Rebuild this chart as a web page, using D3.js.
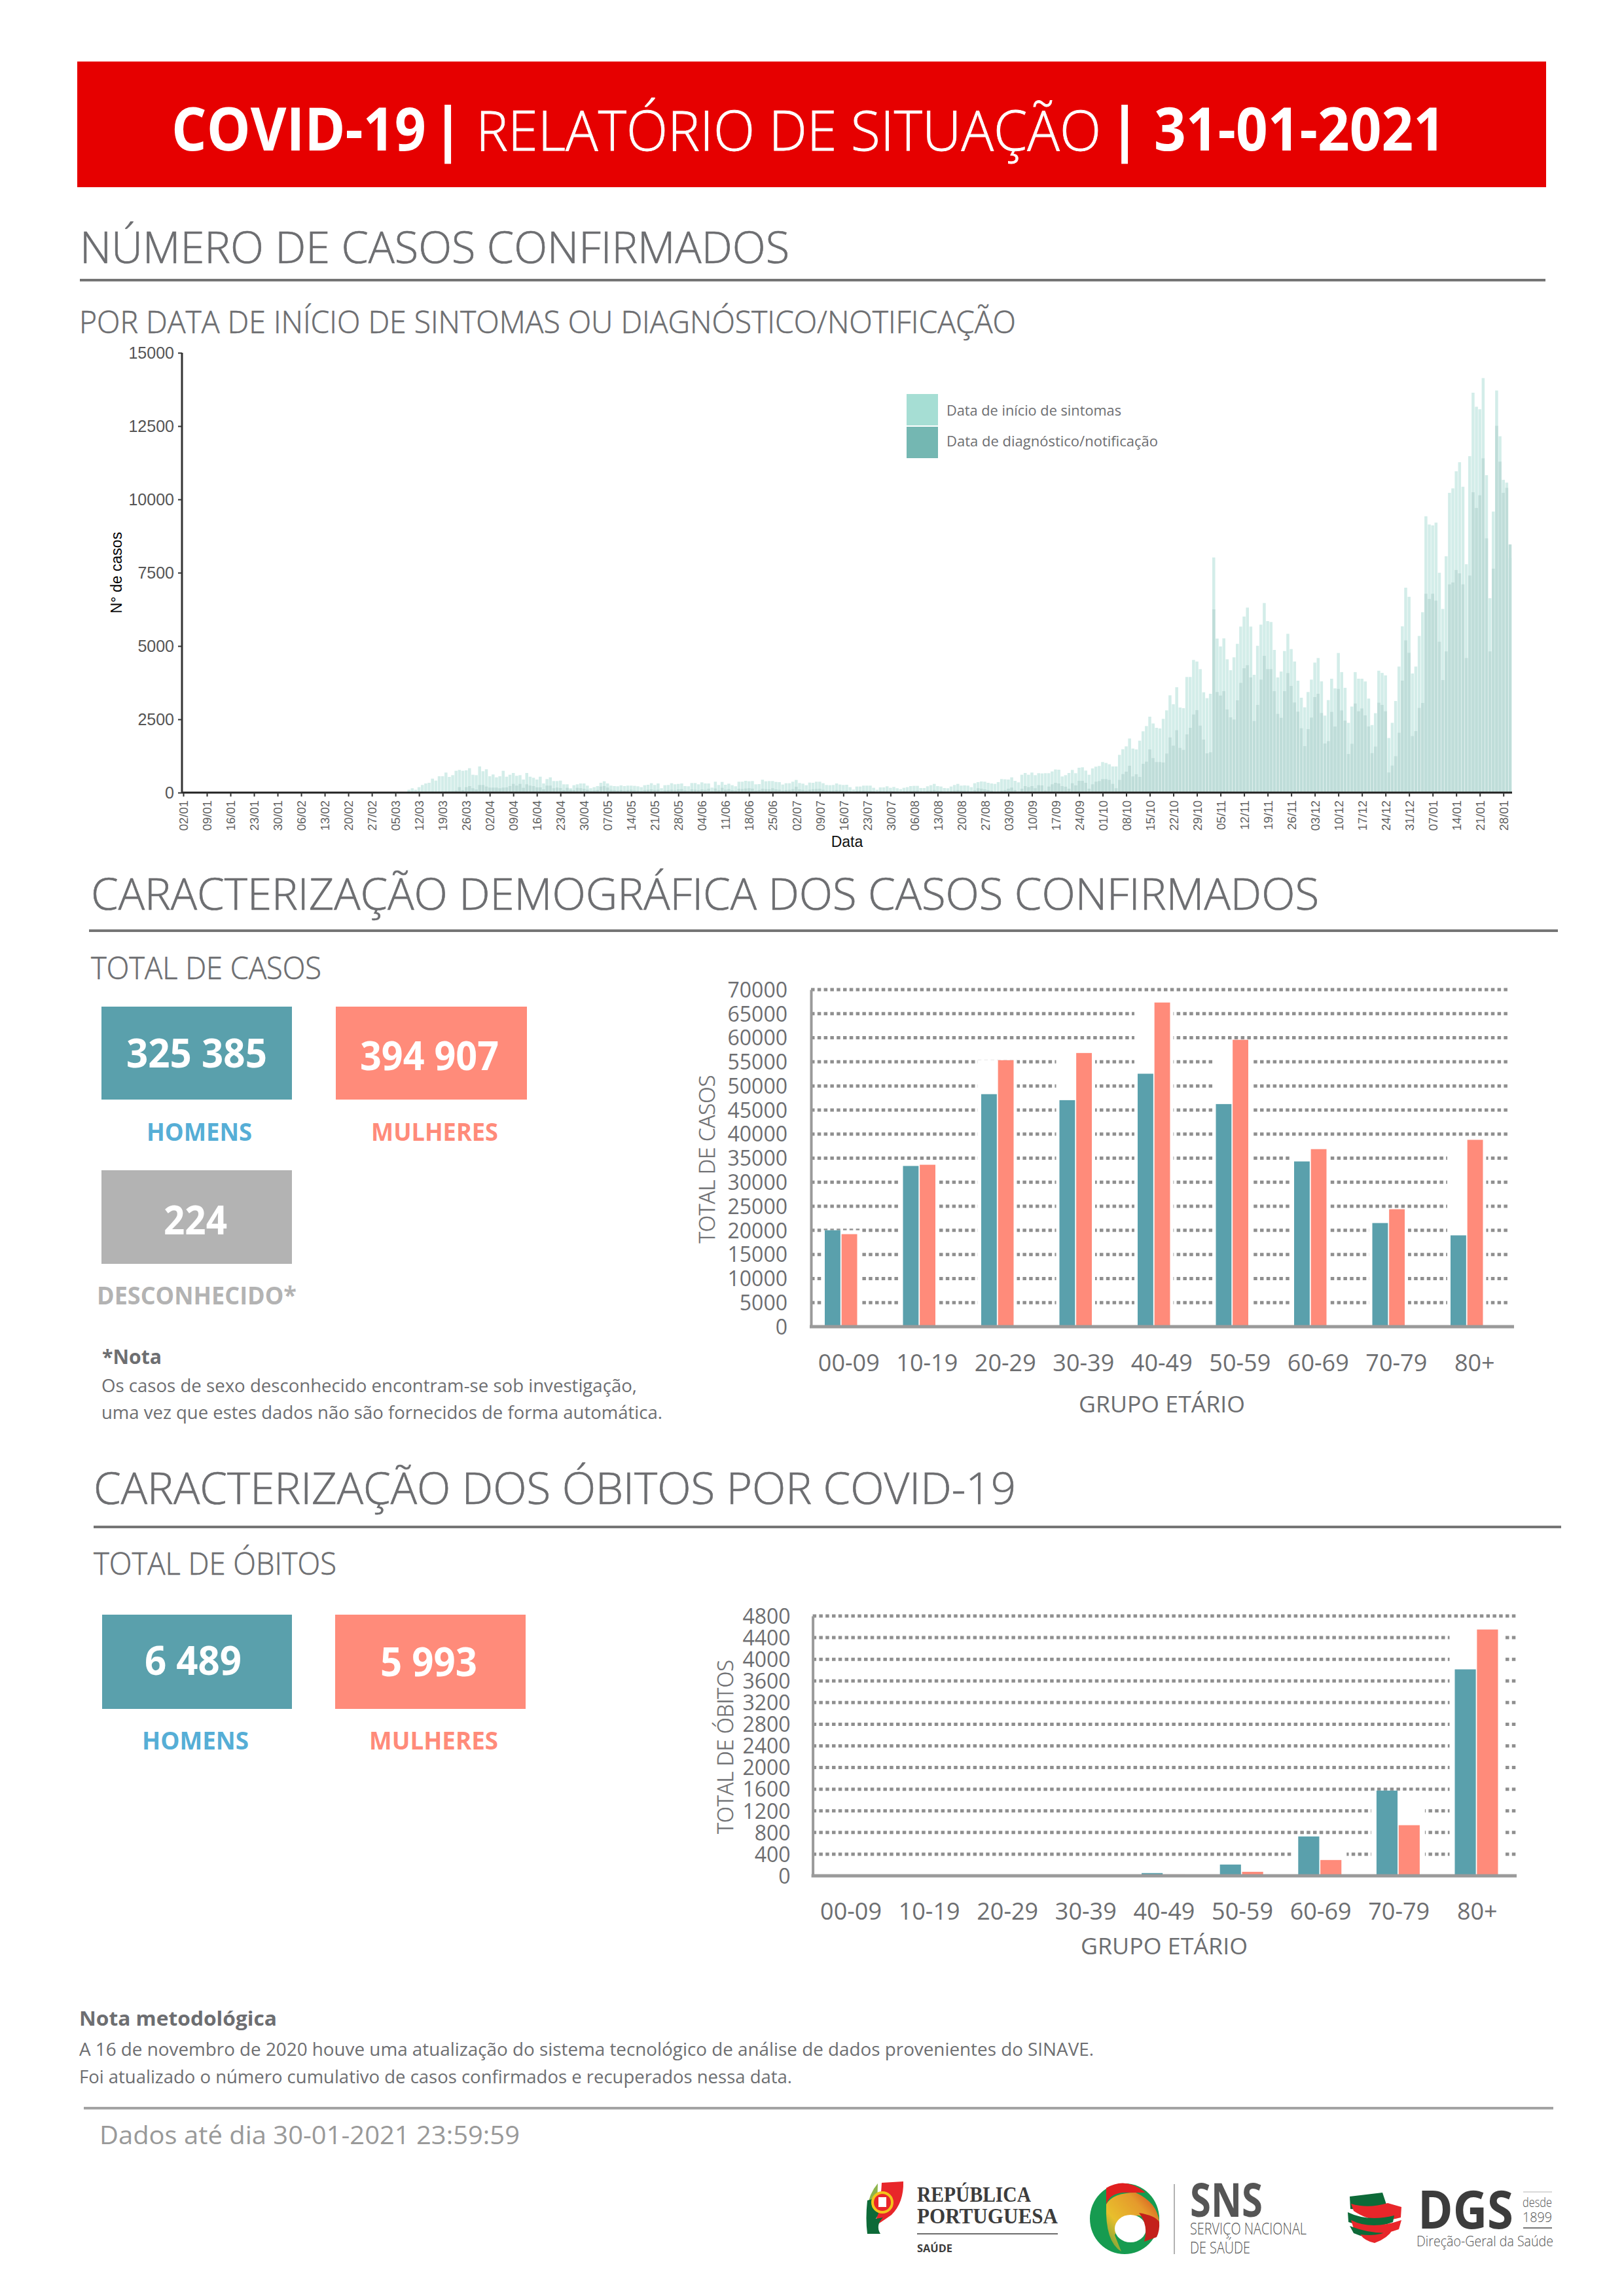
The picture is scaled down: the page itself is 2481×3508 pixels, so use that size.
<!DOCTYPE html>
<html lang="pt"><head><meta charset="utf-8">
<script src="https://cdn.jsdelivr.net/npm/d3@7/dist/d3.min.js"></script>
<style>html,body{margin:0;padding:0;background:#fff}svg{display:block}</style>
</head><body><div id="c"></div>
<script>
// ---------- DATA ----------
const firstDay = "2020-03-09"; // first day with cases; every earlier day is zero
const axisStart = "2020-01-02", axisEnd = "2021-01-30";
// Light bars, daily
const lightMarch = [97,149,97,186,260,312,335,476,409,558,558,684,536,595,744,774,744,759,833,610,595,893,729];
const lightApril = [796,558,618,521,558,744,543,610,670,573,595,446,670,543,506,446,543,312,461,521,394,394,409,283,283,149,253,283,312,312];
const lightMay = [238,149,186,223,335,387,312,238,223,216,246,223,238,238,231,216,186,253,268,320,260,312,149,253,260,320,283,298,312,223,216];
const lightJune = [327,327,283,350,312,312,171,372,260,365,268,305,253,216,372,372,402,387,394,283,290,439,387,394,394,365,357,275,320,320];
const lightJuly = [372,432,327,305,253,342,335,372,372,320,260,253,260,312,275,260,268,186,104,208,208,238,238,238,164,97,178,178,216,164,193];
const lightAugust = [149,119,164,186,223,231,231,156,156,216,253,298,223,208,156,149,208,260,298,238,246,238,186,320,357,380,372,335,312,298,357];
const lightSeptember = [461,454,446,521,402,350,610,670,610,684,595,662,655,662,662,722,789,781,551,595,670,774,662,848,863,751,610,826,885,908];
const lightOctober = [1042,1012,967,893,893,1287,1481,1577,1845,1503,1473,1771,2091,2269,2589,2358,2210,2187,2515,2805,3318,3013,3594,2902,2879,3943,3943,4524,4471,4211,3422];
const lightNovember = [3222,3370,8020,5253,4985,5260,4546,4174,4613,5074,5662,6004,6309,5662,4018,5007,5729,6465,5848,5818,4866,3928,4129,4829,5416,4896,4471,3817,3236,2909];
const lightDecember = [3430,3854,4434,4590,3794,2626,3155,3884,3556,4762,4110,3574,2380,2935,4110,3885,3885,3791,3207,2304,2709,4157,4082,3998,1862,2380,3123,4299,5672,6989,6678];
const lightJanuary = [4063,4299,5343,6152,9425,9143,9114,9208,7497,6264,8061,10224,10375,10958,11268,10431,7788,11475,13639,13159,13074,14137,10826,6631,9585,13714,12153,10666,10572,8000];
// Darker bars, daily
const darkMarch = [10,15,15,20,25,30,30,35,30,35,40,45,50,55,70,186,89,186,223,149,104,260,260];
const darkApril = [208,171,171,171,149,171,178,223,298,238,298,164,283,238,223,178,178,112,238,238,149,171,156,89,164,97,89,164,150,130];
const darkMay = [100,60,75,90,208,223,171,97,85,70,90,70,85,100,80,70,55,85,100,110,90,100,45,75,85,100,85,110,120,75,60];
const darkJune = [110,100,85,110,95,130,50,140,85,164,100,120,85,70,130,125,140,149,135,70,90,130,120,115,149,110,100,70,90,95];
const darkJuly = [120,200,110,95,70,100,115,125,130,100,70,70,75,90,80,65,70,40,25,55,65,70,60,60,45,30,55,50,60,50,45];
const darkAugust = [40,30,45,50,60,65,70,45,40,60,75,90,65,55,35,35,60,75,85,70,65,60,45,80,149,134,112,89,60,15,30];
const darkSeptember = [74,89,134,171,89,15,134,223,186,223,149,253,246,74,208,283,335,312,223,201,134,320,246,402,402,335,134,283,372,394];
const darkOctober = [461,461,432,298,149,432,632,714,915,551,625,536,982,1056,1473,1176,1042,1042,1027,1332,1882,1600,2128,1525,1458,1986,2210,2664,2812,2284,1808];
const darkNovember = [1339,1376,6250,3430,3311,3460,2835,2567,2492,3147,3742,4241,4345,3928,2440,2991,3854,4665,4211,4211,3460,2686,2552,3460,4077,3638,3073,2760,2195,1585];
const darkDecember = [2165,2559,3259,3370,2716,1674,1756,2753,2254,3534,2803,2455,1317,1665,3038,2775,2869,2634,2257,1345,1571,3066,2991,2775,687,922,1242,2041,3819,5192,4769];
const darkJanuary = [1928,2098,2888,3057,6782,6603,6782,6547,5145,3838,4816,7102,7167,7591,7478,7102,4590,7403,10243,9707,10140,11400,8672,4816,7638,12510,11287,10224,10394,8465];

const timelineTicks = [0,2500,5000,7500,10000,12500,15000];
const ageGroups = ["00-09","10-19","20-29","30-39","40-49","50-59","60-69","70-79","80+"];
const casesMen = [20027,33378,48290,47042,52532,46231,34315,21525,18966];
const casesWomen = [19216,33628,55340,56837,67319,59582,36872,24394,38807];
const deathsMen = [1,0,5,15,51,208,727,1574,3814];
const deathsWomen = [0,1,4,8,25,74,292,935,4550];
const casesTicks = d3.range(0,70001,5000);
const deathsTicks = d3.range(0,4801,400);

// ---------- PAGE ----------
const W=2481,H=3508, sans='"Open Sans"', arial='"Liberation Sans"', grey="#6d6e71",
      teal="#5aa0ac", salmon="#ff8b7a", silver="#b3b3b3";
const svg=d3.select("#c").append("svg").attr("width",W).attr("height",H).attr("viewBox",[0,0,W,H]);
function T(x1,base,x2,s,size,o={}){
  const t=svg.append("text").attr("x",x1).attr("y",base).text(s)
   .attr("font-family",o.family||sans).attr("font-size",size).attr("font-weight",o.weight||400)
   .attr("fill",o.fill||grey).attr("textLength",x2-x1).attr("lengthAdjust","spacingAndGlyphs");
  if(o.heavy) t.attr("stroke",o.fill||grey).attr("stroke-width",o.heavy);
  return t;
}
function rule(x1,x2,y,c="#757575",w=4){svg.append("line").attr("x1",x1).attr("x2",x2).attr("y1",y).attr("y2",y).attr("stroke",c).attr("stroke-width",w);}
function box(x1,y1,x2,y2,c){svg.append("rect").attr("x",x1).attr("y",y1).attr("width",x2-x1).attr("height",y2-y1).attr("fill",c);}
function pipe(cx){svg.append("text").attr("x",cx).attr("y",230).attr("text-anchor","middle").text("|")
  .attr("font-family",sans).attr("font-size",92).attr("font-weight",700).attr("fill","#fff");}

// header
box(118,94,2362,286,"#e60000");
T(262,230,651,"COVID-19",92,{weight:700,fill:"#fff"});
pipe(684);
T(727,230,1682,"RELATÓRIO DE SITUAÇÃO",84,{weight:300,fill:"#fff",heavy:0.8});
pipe(1718);
T(1763,230,2208,"31-01-2021",92,{weight:700,fill:"#fff"});

// section 1
T(122,402,1206,"NÚMERO DE CASOS CONFIRMADOS",66,{weight:300,heavy:0.7});
rule(122,2361,428);
T(121,509,1552,"POR DATA DE INÍCIO DE SINTOMAS OU DIAGNÓSTICO/NOTIFICAÇÃO",47,{weight:300,heavy:0.6});

// timeline chart
const light=[].concat(lightMarch,lightApril,lightMay,lightJune,lightJuly,lightAugust,lightSeptember,lightOctober,lightNovember,lightDecember,lightJanuary);
const dark=[].concat(darkMarch,darkApril,darkMay,darkJune,darkJuly,darkAugust,darkSeptember,darkOctober,darkNovember,darkDecember,darkJanuary);
const parse=d3.utcParse("%Y-%m-%d");
const t0=parse(firstDay), dayOf=i=>d3.utcDay.offset(t0,i);
const xT=d3.scaleUtc().domain([parse(axisStart),parse(axisEnd)]).range([280,2307]);
const yT=d3.scaleLinear().domain([0,15000]).range([1211,539]);
const barW=4.5;
const tl=svg.append("g");
tl.selectAll("rect.l").data(light).join("rect").attr("class","l")
  .attr("x",(d,i)=>xT(dayOf(i))-barW/2).attr("width",barW).attr("y",d=>yT(d)).attr("height",d=>yT(0)-yT(d)).attr("fill","#d3ede9");
tl.selectAll("rect.d").data(dark).join("rect").attr("class","d")
  .attr("x",(d,i)=>xT(dayOf(i))-barW/2).attr("width",barW).attr("y",d=>yT(d)).attr("height",d=>yT(0)-yT(d)).attr("fill","#bfddd9");
const weekly=d3.utcDay.range(parse(axisStart),d3.utcDay.offset(parse(axisEnd),1),7);
const gx=svg.append("g").attr("transform","translate(0,1211)")
  .call(d3.axisBottom(xT).tickValues(weekly).tickFormat(d3.utcFormat("%d/%m")).tickSize(6).tickPadding(5));
gx.select(".domain").attr("d","M278,0H2310").attr("stroke","#222").attr("stroke-width",3);
gx.selectAll(".tick line").attr("stroke","#333").attr("stroke-width",2);
gx.selectAll(".tick text").attr("transform","rotate(-90)").attr("text-anchor","end").attr("x",-12).attr("y",0).attr("dy","0.36em")
  .attr("font-family",arial).attr("font-size",18.5).attr("fill","#5f5f5f");
const gy=svg.append("g").attr("transform","translate(278,0)")
  .call(d3.axisLeft(yT).tickValues(timelineTicks).tickFormat(d3.format("d")).tickSize(6).tickPadding(6));
gy.select(".domain").attr("stroke","#333").attr("stroke-width",3).attr("d","M0,539V1211");
gy.selectAll(".tick line").attr("stroke","#333").attr("stroke-width",2);
gy.selectAll(".tick text").attr("font-family",arial).attr("font-size",25).attr("fill","#555");
svg.append("text").attr("transform","translate(186,875) rotate(-90)").attr("text-anchor","middle").text("N° de casos")
  .attr("font-family",arial).attr("font-size",23).attr("fill","#000");
svg.append("text").attr("x",1294).attr("y",1294).attr("text-anchor","middle").text("Data")
  .attr("font-family",arial).attr("font-size",23).attr("fill","#111");
box(1385,602,1433,650,"#a6ded4"); box(1385,652,1433,700,"#74b7b2");
T(1446,635,1713,"Data de início de sintomas",22);
T(1446,682,1769,"Data de diagnóstico/notificação",22);

// section 2
T(139,1390,2015,"CARACTERIZAÇÃO DEMOGRÁFICA DOS CASOS CONFIRMADOS",66,{weight:300,heavy:0.7});
rule(136,2380,1422);
T(139,1496,491,"TOTAL DE CASOS",47,{weight:300,heavy:0.6});
box(155,1538,446,1680,teal); box(513,1538,805,1680,salmon); box(155,1788,446,1931,silver);
T(193,1631,408,"325 385",60,{weight:700,fill:"#fff"});
T(550,1635,762,"394 907",60,{weight:700,fill:"#fff"});
T(250,1886,347,"224",60,{weight:700,fill:"#fff"});
T(224,1743,385,"HOMENS",38,{weight:700,fill:"#56aed6"});
T(567,1743,761,"MULHERES",38,{weight:700,fill:salmon});
T(148,1993,453,"DESCONHECIDO*",38,{weight:700,fill:silver});
T(156,2084,247,"*Nota",31,{weight:700});
T(155,2127,973,"Os casos de sexo desconhecido encontram-se sob investigação,",27);
T(155,2168,1012,"uma vez que estes dados não são fornecidos de forma automática.",27);

// grouped bar chart helper
function grouped(o){
  const x=d3.scaleBand().domain(ageGroups).range(o.xr);
  const sub=d3.scaleBand().domain([0,1]).range(o.sub).paddingInner(o.inner);
  const y=d3.scaleLinear().domain([0,o.ticks[o.ticks.length-1]]).range(o.yr);
  const g=svg.append("g");
  g.selectAll("line.g").data(o.ticks.filter(d=>d>0)).join("line").attr("class","g")
   .attr("x1",o.axisX).attr("x2",o.gridEnd).attr("y1",d=>y(d)).attr("y2",d=>y(d))
   .attr("stroke","#8f8f8f").attr("stroke-width",5).attr("stroke-dasharray","5.5 4.3");
  const rows=ageGroups.map((a,i)=>({a,v:[o.men[i],o.women[i]]}));
  const gr=g.selectAll("g.a").data(rows).join("g").attr("class","a").attr("transform",d=>`translate(${x(d.a)},0)`);
  gr.filter(d=>d3.max(d.v)>100).append("rect")
    .attr("x",sub(0)-o.halo).attr("width",sub(1)+sub.bandwidth()-sub(0)+2*o.halo)
    .attr("y",d=>y(d3.max(d.v))).attr("height",d=>y(0)-y(d3.max(d.v))).attr("fill","#fff");
  gr.selectAll("rect.b").data(d=>d.v).join("rect").attr("class","b")
    .attr("x",(d,i)=>sub(i)).attr("width",sub.bandwidth()).attr("y",d=>y(d)).attr("height",d=>y(0)-y(d))
    .attr("fill",(d,i)=>i?salmon:teal);
  const ya=svg.append("g").attr("transform",`translate(${o.axisX},0)`)
    .call(d3.axisLeft(y).tickValues(o.ticks).tickFormat(d3.format("d")).tickSize(0).tickPadding(o.tickPad));
  ya.select(".domain").attr("stroke","#9a9a9a").attr("stroke-width",4);
  ya.selectAll("text").attr("font-family",sans).attr("font-size",32).attr("fill",grey).attr("y",1);
  const xa=svg.append("g").attr("transform",`translate(${o.labelShift},${y(0)})`)
    .call(d3.axisBottom(x).tickSize(0));
  xa.select(".domain").remove();
  xa.selectAll("text").attr("y",o.labelY).attr("dy",0).attr("font-family",sans).attr("font-size",36).attr("fill",grey);
  rule(o.axisX-2,o.baseEnd,y(0),"#9a9a9a",5);
  svg.append("text").attr("transform",`translate(${o.titleX},${o.titleY}) rotate(-90)`).attr("text-anchor","middle").text(o.title)
    .attr("font-family",sans).attr("font-size",33).attr("font-weight",300).attr("fill",grey).attr("stroke",grey).attr("stroke-width",0.5)
    .attr("textLength",o.titleLen).attr("lengthAdjust","spacingAndGlyphs");
  T(o.gx1,o.gBase,o.gx2,"GRUPO ETÁRIO",35);
}
grouped({men:casesMen,women:casesWomen,ticks:casesTicks,xr:[1225,2300.5],sub:[35,84.5],inner:0.07,yr:[2027,1512],axisX:1239,gridEnd:2307,baseEnd:2313,
  halo:5,tickPad:36,labelShift:12,labelY:68,titleX:1092,titleY:1771,titleLen:257,title:"TOTAL DE CASOS",gx1:1648,gx2:1902,gBase:2158});

// section 3
T(143,2298,1552,"CARACTERIZAÇÃO DOS ÓBITOS POR COVID-19",66,{weight:300,heavy:0.7});
rule(143,2385,2333);
T(143,2406,514,"TOTAL DE ÓBITOS",47,{weight:300,heavy:0.6});
box(156,2467,446,2611,teal); box(512,2467,803,2611,salmon);
T(221,2559,369,"6 489",60,{weight:700,fill:"#fff"});
T(581,2561,729,"5 993",60,{weight:700,fill:"#fff"});
T(217,2673,380,"HOMENS",38,{weight:700,fill:"#56aed6"});
T(564,2673,761,"MULHERES",38,{weight:700,fill:salmon});
grouped({men:deathsMen,women:deathsWomen,ticks:deathsTicks,xr:[1240.2,2316.6],sub:[25.5,91.5],inner:0.05,yr:[2866,2469],axisX:1241.6,gridEnd:2317,baseEnd:2317,
  halo:8,tickPad:34,labelShift:0,labelY:67,titleX:1120,titleY:2669,titleLen:266,title:"TOTAL DE ÓBITOS",gx1:1651,gx2:1906,gBase:2986});

// footer notes
T(121,3095,423,"Nota metodológica",30,{weight:700});
T(121,3141,1671,"A 16 de novembro de 2020 houve uma atualização do sistema tecnológico de análise de dados provenientes do SINAVE.",27);
T(121,3183,1210,"Foi atualizado o número cumulativo de casos confirmados e recuperados nessa data.",27);
rule(128,2373,3221,"#a3a3a3",4);
T(152,3276,794,"Dados até dia 30-01-2021 23:59:59",39,{fill:"#999"});

// logos
const defs=svg.append("defs");
const lg=defs.append("linearGradient").attr("id","sw").attr("x1",0).attr("y1",1).attr("x2",1).attr("y2",0);
[[0,"#5f9b3a"],[.35,"#e8bf2c"],[.7,"#e59a2c"],[1,"#d2401c"]].forEach(s=>lg.append("stop").attr("offset",s[0]).attr("stop-color",s[1]));
const P=(d,f)=>svg.append("path").attr("d",d).attr("fill",f);
// República Portuguesa
P("M1341,3336Q1327,3352 1325,3375L1340,3370Z","#8db54b");
P("M1347,3335L1380,3333Q1381,3365 1362,3384Q1345,3396 1335,3402Q1345,3375 1347,3335Z","#e8262a");
P("M1340,3358L1325,3362Q1322,3390 1325,3413L1345,3413Q1337,3400 1349,3388L1338,3390Q1348,3375 1340,3358Z","#0d6a38");
svg.append("circle").attr("cx",1348).attr("cy",3365).attr("r",15).attr("fill","#e8262a").attr("stroke","#f3c41a").attr("stroke-width",4);
svg.append("rect").attr("x",1342).attr("y",3357).attr("width",12).attr("height",15).attr("fill","#fff");
T(1401,3364,1575,"REPÚBLICA",34,{family:'"Liberation Serif"',weight:700,fill:"#3c3c3c"});
T(1401,3397,1616,"PORTUGUESA",34,{family:'"Liberation Serif"',weight:700,fill:"#3c3c3c"});
rule(1401,1616,3413,"#3c3c3c",1.5);
T(1401,3441,1455,"SAÚDE",16,{weight:700,fill:"#3c3c3c"});
// SNS
svg.append("ellipse").attr("cx",1718).attr("cy",3390).attr("rx",53).attr("ry",54).attr("fill","#169b50");
P("M1690,3343Q1720,3325 1750,3350L1715,3350Q1695,3352 1690,3368Z","#e01f1f");
P("M1690,3368Q1700,3350 1735,3350Q1768,3365 1771,3395L1740,3385Q1715,3385 1703,3415L1713,3440Q1688,3425 1690,3368Z","url(#sw)");
svg.append("ellipse").attr("cx",1727).attr("cy",3405).attr("rx",24).attr("ry",21).attr("fill","#fff");
P("M1740,3381Q1765,3385 1771,3395Q1772,3408 1767,3418L1748,3425Q1755,3400 1740,3381Z","#c4201b");
svg.append("line").attr("x1",1794).attr("x2",1794).attr("y1",3337).attr("y2",3444).attr("stroke","#999").attr("stroke-width",1.5);
T(1818,3387,1929,"SNS",72,{weight:700,fill:"#555"});
T(1818,3414,1996,"SERVIÇO NACIONAL",26,{weight:300,fill:"#555"});
T(1818,3443,1910,"DE SAÚDE",26,{weight:300,fill:"#555"});
// DGS
P("M2062,3356L2112,3350L2118,3368Q2090,3378 2063,3375Z","#0d6a38");
P("M2064,3367Q2090,3375 2120,3366L2141,3372L2140,3388Q2100,3400 2068,3378Z","#e8262a");
P("M2059,3380Q2090,3395 2130,3385L2128,3395Q2095,3408 2060,3395Z","#0d6a38");
P("M2064,3392Q2095,3408 2141,3392L2137,3406Q2100,3420 2068,3405Z","#e8262a");
P("M2062,3401Q2090,3412 2118,3412L2112,3420Q2085,3420 2068,3412Z","#0d6a38");
P("M2078,3414Q2105,3418 2128,3406Q2120,3420 2100,3427Q2085,3424 2078,3414Z","#e8262a");
T(2166,3405,2312,"DGS",80,{weight:700,fill:"#3c3c3c"});
rule(2327,2371,3349,"#ccc",1.5); rule(2327,2371,3404,"#777",2);
T(2326,3372,2371,"desde",20,{weight:300,fill:"#555"});
T(2326,3395,2371,"1899",20,{weight:300,fill:"#555"});
T(2164,3432,2373,"Direção-Geral da Saúde",22,{weight:300,fill:"#555"});
</script></body></html>
